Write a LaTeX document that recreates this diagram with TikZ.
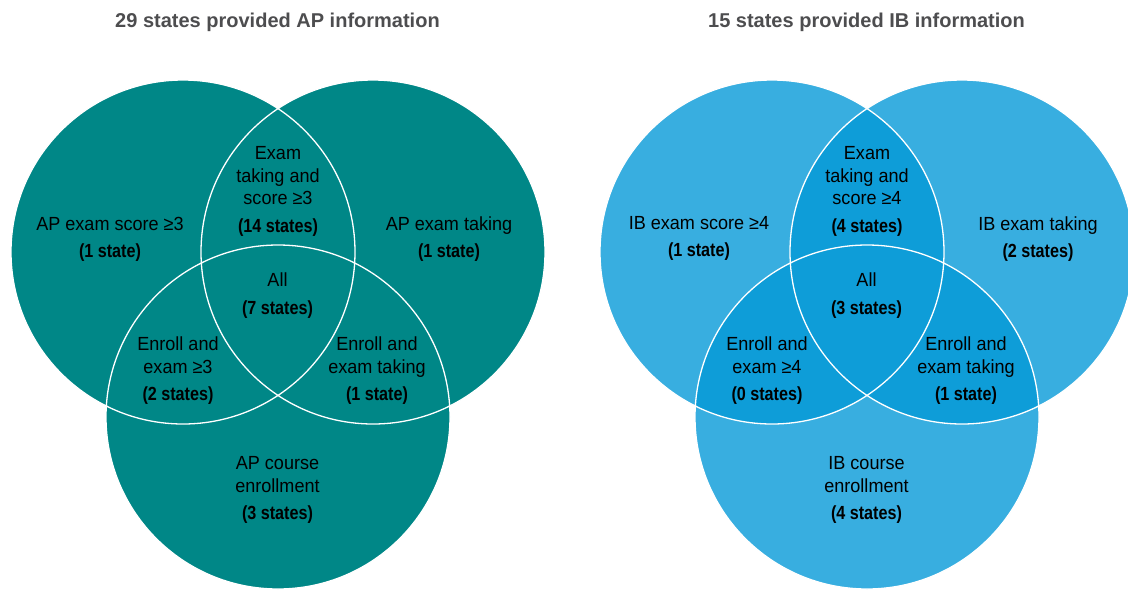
\documentclass[tikz,border=0pt]{standalone}
\usepackage{fontspec}
\setmainfont{Liberation Sans}[FakeStretch=0.95,BoldFeatures={FakeStretch=0.85}]
\newfontfamily\titlefont{Liberation Sans}
\definecolor{apteal}{HTML}{008787}
\definecolor{iblight}{HTML}{38AEE0}
\definecolor{ibdark}{HTML}{0E9DD8}
\definecolor{titlegray}{HTML}{4D4D4F}
\begin{document}
\begin{tikzpicture}[x=1pt,y=-1pt,
  lbl/.style={align=center,inner sep=0pt,anchor=north,font=\fontsize{19}{22.5}\selectfont,text=black},
  ttl/.style={font=\titlefont\bfseries\fontsize{20}{24}\selectfont,text=titlegray,anchor=base,inner sep=0pt},
  ring/.style={draw=white,line width=1.3pt}]
\useasboundingbox (0,0) rectangle (1128,590);
% centres
\coordinate (apL) at (183,252);
\coordinate (apR) at (373,252);
\coordinate (apB) at (278,417);
\coordinate (ibL) at (772,252);
\coordinate (ibR) at (962,252);
\coordinate (ibB) at (867,417);
% AP diagram
\fill[apteal] (apL) circle[radius=172pt] (apR) circle[radius=172pt] (apB) circle[radius=172pt];
\draw[ring] (apL) circle[radius=172pt] (apR) circle[radius=172pt] (apB) circle[radius=172pt];
% IB diagram
\fill[iblight] (ibL) circle[radius=172pt] (ibR) circle[radius=172pt] (ibB) circle[radius=172pt];
\begin{scope}
  \clip (ibL) circle[radius=172pt];
  \fill[ibdark] (ibR) circle[radius=172pt] (ibB) circle[radius=172pt];
\end{scope}
\begin{scope}
  \clip (ibR) circle[radius=172pt];
  \fill[ibdark] (ibB) circle[radius=172pt];
\end{scope}
\draw[ring] (ibL) circle[radius=172pt] (ibR) circle[radius=172pt] (ibB) circle[radius=172pt];
% titles
\node[ttl] (t1) at (277.5,27.5) {29 states provided AP information};
\node[ttl] (t2) at (866.5,27.5) {15 states provided IB information};
% AP labels
\node[lbl] (a1) at (278,146.7) {Exam\\taking and\\score ≥3\\[5.5pt]\textbf{(14 states)}};
\node[lbl] (a2) at (110,216.7) {AP exam score ≥3\\[4.5pt]\textbf{(1 state)}};
\node[lbl] (a3) at (449,216.7) {AP exam taking\\[4.5pt]\textbf{(1 state)}};
\node[lbl] (a4) at (277.5,273) {All\\[5pt]\textbf{(7 states)}};
\node[lbl] (a5) at (178,336.7) {Enroll and\\exam ≥3\\[4.5pt]\textbf{(2 states)}};
\node[lbl] (a6) at (377,336.7) {Enroll and\\exam taking\\[4.5pt]\textbf{(1 state)}};
\node[lbl] (a7) at (277.5,456.7) {AP course\\enrollment\\[4.5pt]\textbf{(3 states)}};
% IB labels
\node[lbl] (b1) at (867,146.7) {Exam\\taking and\\score ≥4\\[5.5pt]\textbf{(4 states)}};
\node[lbl] (b2) at (699,216.7) {IB exam score ≥4\\[4.5pt]\textbf{(1 state)}};
\node[lbl] (b3) at (1038,216.7) {IB exam taking\\[4.5pt]\textbf{(2 states)}};
\node[lbl] (b4) at (866.5,273) {All\\[5pt]\textbf{(3 states)}};
\node[lbl] (b5) at (767,336.7) {Enroll and\\exam ≥4\\[4.5pt]\textbf{(0 states)}};
\node[lbl] (b6) at (966,336.7) {Enroll and\\exam taking\\[4.5pt]\textbf{(1 state)}};
\node[lbl] (b7) at (866.5,456.7) {IB course\\enrollment\\[4.5pt]\textbf{(4 states)}};
\end{tikzpicture}
\end{document}
